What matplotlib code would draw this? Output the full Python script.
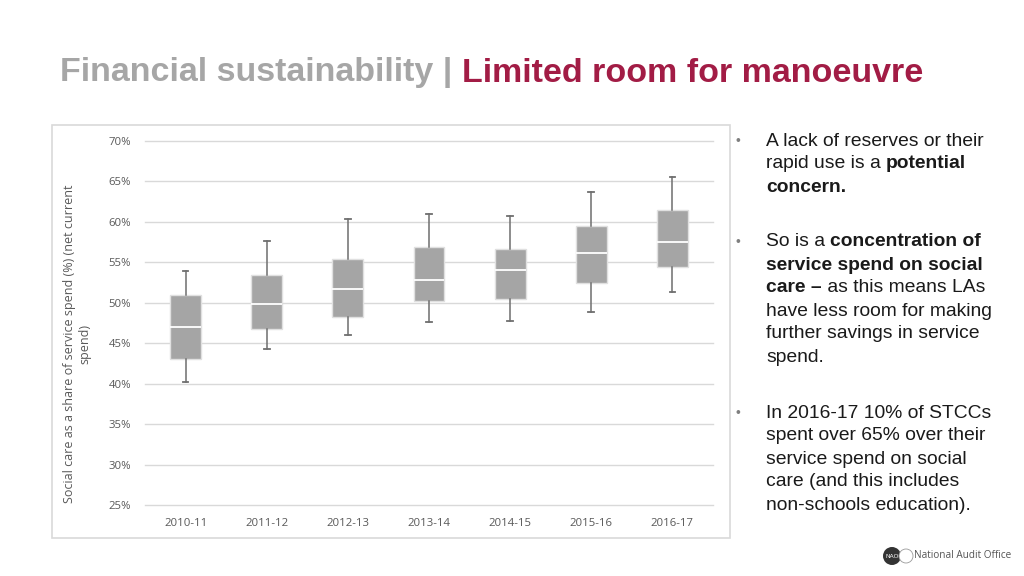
import matplotlib
matplotlib.use("Agg")
import matplotlib.pyplot as plt
from matplotlib.patches import Rectangle, Circle

# ---- data ----
categories = ["2010-11", "2011-12", "2012-13", "2013-14", "2014-15", "2015-16", "2016-17"]
whisker_low = [40.2, 44.3, 46.0, 47.6, 47.7, 48.8, 51.3]
q1 = [43.1, 46.7, 48.2, 50.2, 50.5, 52.5, 54.4]
median = [47.0, 49.9, 51.7, 52.8, 54.0, 56.2, 57.5]
q3 = [51.0, 53.4, 55.4, 56.9, 56.6, 59.5, 61.5]
whisker_high = [53.9, 57.6, 60.3, 61.0, 60.7, 63.7, 65.5]
y_ticks = [25, 30, 35, 40, 45, 50, 55, 60, 65, 70]

W, H = 1024, 576
fig = plt.figure(figsize=(W / 100, H / 100), dpi=100)
fig.patch.set_facecolor("white")

def fx(px):
    return px / W

def fy(py):
    return 1 - py / H

# Title
t1 = fig.text(fx(60), fy(73), "Financial sustainability | ", color="#A6A6A6", fontsize=24.5,
              fontweight="bold", family="Liberation Sans", va="center", ha="left")
fig.canvas.draw()
bb = t1.get_window_extent()
fig.text(bb.x1 / W, fy(73), "Limited room for manoeuvre", color="#A21C45", fontsize=24.5,
         fontweight="bold", family="Liberation Sans", va="center", ha="left")

# panel border
fig.patches.append(Rectangle((fx(52), fy(538)), fx(730 - 52), (538 - 125) / H,
                             transform=fig.transFigure, fill=False, edgecolor="#D9D9D9",
                             linewidth=1.2))

ax = fig.add_axes([fx(145), fy(505), fx(713 - 145), (505 - 141) / H])
stats = []
for i, c in enumerate(categories):
    stats.append(dict(label=c, whislo=whisker_low[i], q1=q1[i], med=median[i],
                      q3=q3[i], whishi=whisker_high[i], fliers=[]))
positions = list(range(len(categories)))
ax.bxp(stats, positions=positions, widths=0.38, patch_artist=True, showfliers=False,
       boxprops=dict(facecolor="#A5A5A5", edgecolor="#E0E0E0", linewidth=1.0),
       medianprops=dict(color="white", linewidth=1.3),
       whiskerprops=dict(color="#6E6E6E", linewidth=1.1),
       capprops=dict(color="#6E6E6E", linewidth=1.3),
       capwidths=0.07, zorder=3)
ax.set_xlim(-0.5, len(categories) - 0.5)
ax.set_ylim(25, 70)
ax.set_yticks(y_ticks)
ax.set_yticklabels([f"{v}%" for v in y_ticks])
ax.set_xticks(positions)
ax.set_xticklabels(categories)
ax.tick_params(axis="both", length=0, labelsize=8.2, labelcolor="#595959")
ax.tick_params(axis="y", pad=10)
ax.tick_params(axis="x", pad=9)
for lbl in ax.get_xticklabels() + ax.get_yticklabels():
    lbl.set_family("Open Sans")
ax.grid(axis="y", color="#D9D9D9", linewidth=1.0, zorder=0)
for gl in ax.get_ygridlines():
    gl.set_clip_on(False)
ax.set_axisbelow(True)
for s in ax.spines.values():
    s.set_visible(False)

fig.text(fx(77), fy(344), "Social care as a share of service spend (%) (net current\nspend)",
         rotation=90, ha="center", va="center", multialignment="center",
         fontsize=9.0, color="#595959", family="Open Sans", linespacing=1.25)

# Bullets
bullet_x = fx(736)
text_x = fx(766)
fs = 13.9
col = "#1A1A1A"
blocks = [
    (141, [[("A lack of reserves or their", "normal")],
           [("rapid use is a ", "normal"), ("potential", "bold")],
           [("concern.", "bold")]]),
    (242, [[("So is a ", "normal"), ("concentration of", "bold")],
           [("service spend on social", "bold")],
           [("care \u2013", "bold"), (" as this means LAs", "normal")],
           [("have less room for making", "normal")],
           [("further savings in service", "normal")],
           [("spend.", "normal")]]),
    (413, [[("In 2016-17 10% of STCCs", "normal")],
           [("spent over 65% over their", "normal")],
           [("service spend on social", "normal")],
           [("care (and this includes", "normal")],
           [("non-schools education).", "normal")]]),
]
line_h = 23
renderer = fig.canvas.get_renderer()
for y0, lines in blocks:
    fig.text(bullet_x, fy(y0), "\u2022", fontsize=10, color="#7F7F7F",
             family="Liberation Sans", va="center", ha="left")
    for li, parts in enumerate(lines):
        x = text_x
        y = fy(y0 + li * line_h)
        for txt, wt in parts:
            t = fig.text(x, y, txt, fontsize=fs, fontweight=wt, color=col,
                         family="Liberation Sans", va="center", ha="left")
            x = t.get_window_extent(renderer).x1 / W

# Logo
fig.add_artist(Circle((892 / 100, (H - 556) / 100), 0.09, transform=fig.dpi_scale_trans,
                      facecolor="#333333", edgecolor="none"))
fig.text(fx(892), fy(556), "NAO", fontsize=4.5, color="white", ha="center", va="center",
         family="Liberation Sans")
fig.add_artist(Circle((906 / 100, (H - 556) / 100), 0.07, transform=fig.dpi_scale_trans,
                      facecolor="white", edgecolor="#999999", linewidth=0.6))
fig.text(fx(914), fy(556), "National Audit Office", fontsize=7.2, color="#555555",
         ha="left", va="center", family="Open Sans")

fig.savefig("out.png", dpi=100, facecolor="white")
